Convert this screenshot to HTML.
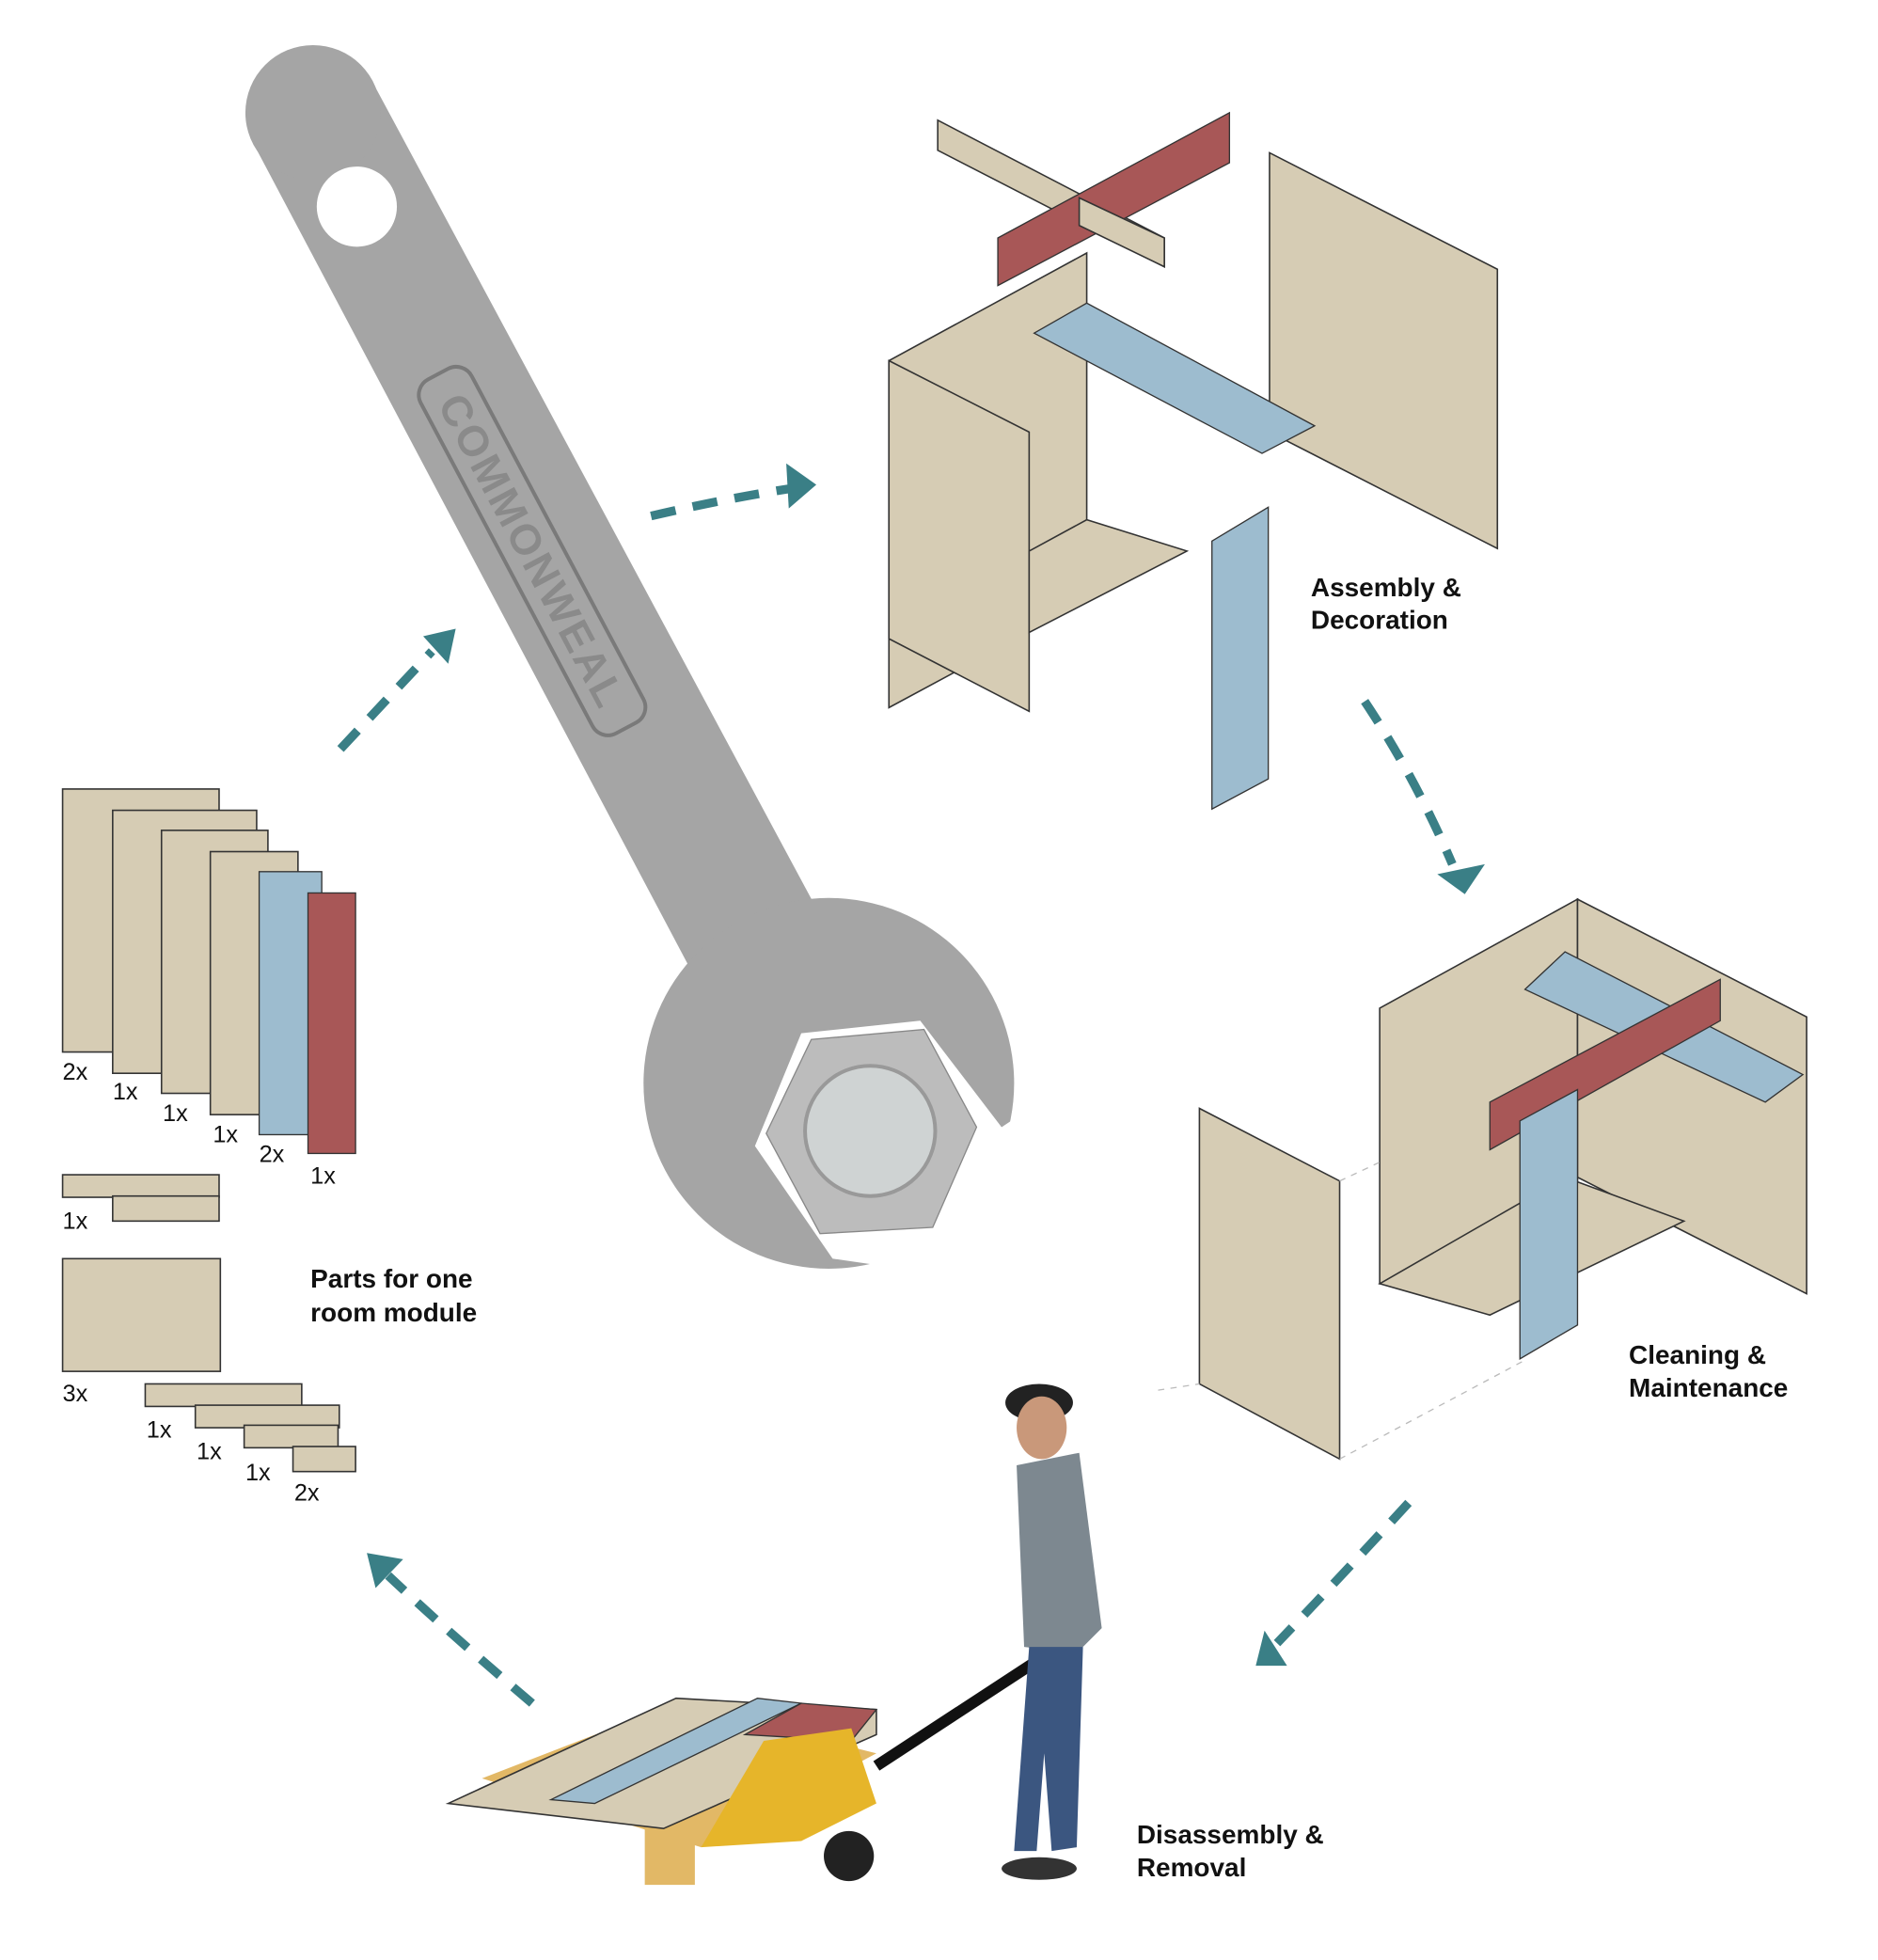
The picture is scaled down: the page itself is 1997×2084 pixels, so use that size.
<!DOCTYPE html>
<html><head><meta charset="utf-8"><style>
html,body{margin:0;padding:0;background:#fff;}
svg{display:block;}
text{font-family:"Liberation Sans",sans-serif;}
.lb{font-size:21px;font-weight:bold;fill:#111;}
.n{font-size:19px;fill:#111;}
.b{fill:#d6ccb4;stroke:#333;stroke-width:1.2;}
.bl{fill:#9dbccf;stroke:#333;stroke-width:1;}
.rd{fill:#a85757;stroke:#333;stroke-width:1;}
.ar{stroke:#3a7f86;stroke-width:7;fill:none;stroke-dasharray:20 14;}
.ah{fill:#3a7f86;}
</style></head><body>
<svg width="1997" height="2084" viewBox="0 0 1500 1565" preserveAspectRatio="none" xmlns="http://www.w3.org/2000/svg">
<!-- wrench -->
<polygon points="200,110 300,70 660,740 560,790" fill="#a5a5a5"/>
<circle cx="250" cy="90" r="54" fill="#a5a5a5"/>
<circle cx="662" cy="865" r="148" fill="#a5a5a5"/>
<circle cx="285" cy="165" r="32" fill="#fff"/>
<polygon points="603,915 640,825 735,815 800,900 830,880 790,1020 700,1010 665,1005" fill="#fff"/>
<polygon points="612,905 648,830 738,822 780,900 745,980 655,985" fill="#bcbcbc" stroke="#888"/>
<circle cx="695" cy="903" r="52" fill="#cfd3d3" stroke="#999" stroke-width="3"/>
<g transform="rotate(62 425 440)">
<rect x="265" y="417" width="320" height="46" rx="14" fill="none" stroke="#7a7a7a" stroke-width="3"/>
<text x="425" y="452" font-size="34" fill="#8a8a8a" font-weight="bold" text-anchor="middle" letter-spacing="2">COMMONWEAL</text>
</g>

<!-- arrows -->
<path class="ar" d="M272,598 L345,520"/><polygon class="ah" points="338,508 364,502 358,530"/>
<path class="ar" d="M520,412 Q580,398 632,390"/><polygon class="ah" points="628,370 652,387 630,406"/>
<path class="ar" d="M1090,560 Q1130,620 1160,690"/><polygon class="ah" points="1148,698 1186,690 1170,714"/>
<path class="ar" d="M1125,1200 Q1070,1260 1020,1312"/><polygon class="ah" points="1010,1302 1028,1330 1003,1330"/>
<path class="ar" d="M425,1360 Q360,1305 310,1258"/><polygon class="ah" points="293,1240 322,1245 300,1268"/>

<!-- parts -->
<rect class="b" x="50" y="630" width="125" height="210"/>
<rect class="b" x="90" y="647" width="115" height="210"/>
<rect class="b" x="129" y="663" width="85" height="210"/>
<rect class="b" x="168" y="680" width="70" height="210"/>
<rect class="bl" x="207" y="696" width="50" height="210"/>
<rect class="rd" x="246" y="713" width="38" height="208"/>
<text class="n" x="50" y="862">2x</text><text class="n" x="90" y="878">1x</text><text class="n" x="130" y="895">1x</text>
<text class="n" x="170" y="912">1x</text><text class="n" x="207" y="928">2x</text><text class="n" x="248" y="945">1x</text>
<rect class="b" x="50" y="938" width="125" height="18"/><rect class="b" x="90" y="955" width="85" height="20"/>
<text class="n" x="50" y="981">1x</text>
<rect class="b" x="50" y="1005" width="126" height="90"/>
<text class="n" x="50" y="1119">3x</text>
<rect class="b" x="116" y="1105" width="125" height="18"/><rect class="b" x="156" y="1122" width="115" height="18"/>
<rect class="b" x="195" y="1138" width="75" height="18"/><rect class="b" x="234" y="1155" width="50" height="20"/>
<text class="n" x="117" y="1148">1x</text><text class="n" x="157" y="1165">1x</text><text class="n" x="196" y="1182">1x</text><text class="n" x="235" y="1198">2x</text>
<text class="lb" x="248" y="1028">Parts for one</text><text class="lb" x="248" y="1055">room module</text>

<!-- assembly top -->
<polygon class="b" points="749,96 930,190 930,213 749,120"/>
<polygon class="rd" points="797,190 982,90 982,130 797,228"/>
<polygon class="b" points="862,158 930,190 930,213 862,180"/>
<polygon class="b" points="1014,122 1196,215 1196,438 1014,345"/>
<polygon class="b" points="710,288 868,202 868,480 710,565"/>
<polygon class="b" points="710,288 822,345 822,568 710,510"/>
<polygon class="b" points="822,440 868,415 948,440 822,505"/>
<polygon class="bl" points="826,266 868,242 1050,340 1008,362"/>
<polygon class="bl" points="968,432 1013,405 1013,622 968,646"/>
<text class="lb" x="1047" y="476">Assembly &amp;</text><text class="lb" x="1047" y="502">Decoration</text>

<!-- cleaning -->
<polygon class="b" points="1102,805 1260,718 1260,990 1102,1025"/>
<polygon class="b" points="1260,718 1443,812 1443,1033 1260,940"/>
<polygon class="b" points="1102,1025 1250,940 1345,975 1190,1050"/>
<polygon class="bl" points="1218,790 1250,760 1440,858 1410,880"/>
<polygon class="rd" points="1190,880 1374,782 1374,815 1190,918"/>
<polygon class="bl" points="1214,895 1260,870 1260,1058 1214,1085"/>
<polygon class="b" points="958,885 1070,943 1070,1165 958,1105"/>
<path d="M925,1110 L958,1105 M1070,1165 L1220,1085 M1070,943 L1102,928" stroke="#bbb" stroke-dasharray="5 5"/>
<text class="lb" x="1301" y="1089">Cleaning &amp;</text><text class="lb" x="1301" y="1115">Maintenance</text>

<!-- pallet and person -->
<polygon points="385,1420 560,1475 700,1400 540,1360" fill="#e2b866"/>
<rect x="515" y="1460" width="40" height="45" fill="#e2b866"/>
<polygon class="b" points="358,1440 540,1356 700,1365 700,1385 530,1460"/>
<polygon class="bl" points="440,1437 605,1356 640,1360 475,1440"/>
<polygon class="rd" points="595,1385 640,1360 700,1365 680,1390"/>
<polygon points="610,1390 680,1380 700,1440 640,1470 560,1475" fill="#e6b52a"/>
<circle cx="678" cy="1482" r="20" fill="#222"/>
<line x1="700" y1="1410" x2="830" y2="1325" stroke="#111" stroke-width="9"/>
<ellipse cx="830" cy="1120" rx="27" ry="15" fill="#222"/>
<ellipse cx="832" cy="1140" rx="20" ry="25" fill="#c9987a"/>
<polygon points="812,1170 862,1160 880,1300 860,1320 818,1315" fill="#7d8890"/>
<polygon points="822,1315 865,1315 860,1475 840,1478 834,1400 828,1478 810,1478" fill="#3b5680"/>
<ellipse cx="830" cy="1492" rx="30" ry="9" fill="#333"/>
<text class="lb" x="908" y="1472">Disassembly &amp;</text><text class="lb" x="908" y="1498">Removal</text>
</svg>
</body></html>
